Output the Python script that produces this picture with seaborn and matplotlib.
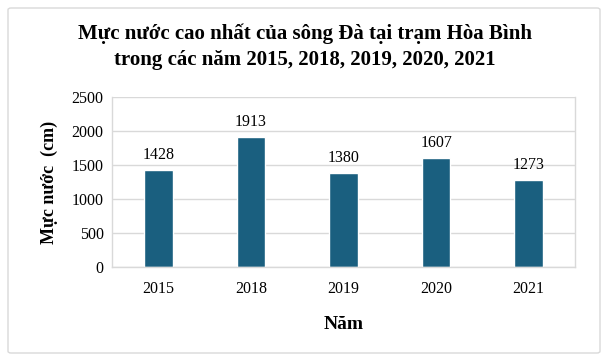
import pandas as pd
import seaborn as sns
import matplotlib.pyplot as plt
from matplotlib.patches import FancyBboxPatch

# dữ liệu
nam = ["2015", "2018", "2019", "2020", "2021"]
muc_nuoc = [1428, 1913, 1380, 1607, 1273]

df = pd.DataFrame({"Năm": nam, "Mực nước": muc_nuoc})

sns.set_theme(style="whitegrid")
plt.rcParams['font.family'] = ['Liberation Serif', 'DejaVu Serif']
plt.rcParams['text.color'] = 'black'
plt.rcParams['axes.labelcolor'] = 'black'

fig = plt.figure(figsize=(6.1, 3.61), dpi=100)
ax = fig.add_axes([112 / 610, 1 - 267 / 361, 463 / 610, 170 / 361])

sns.barplot(data=df, x="Năm", y="Mực nước", color="#1a5f7f", width=0.31,
            saturation=1, ax=ax)
ax.bar_label(ax.containers[0], fmt="%d", padding=5, fontsize=11.5)

ax.set_ylim(0, 2500)
ax.set_yticks(range(0, 2501, 500))
ax.grid(axis="y", color="#d9d9d9", linewidth=1)
ax.grid(axis="x", visible=False)
ax.tick_params(axis="both", labelsize=11.5, colors="#000000", length=0)
ax.tick_params(axis="x", pad=10)
ax.tick_params(axis="y", pad=6)
ax.spines["top"].set_visible(False)
for side in ["left", "right", "bottom"]:
    ax.spines[side].set_color("#d9d9d9")
    ax.spines[side].set_linewidth(1)

ax.set_xlabel("Năm", fontsize=14, fontweight="bold", labelpad=14)
ax.set_ylabel("Mực nước  (cm)", fontsize=13, fontweight="bold", labelpad=10)

fig.text(0.5, 1 - 47 / 361,
         "Mực nước cao nhất của sông Đà tại trạm Hòa Bình\n"
         "trong các năm 2015, 2018, 2019, 2020, 2021",
         ha="center", va="center", fontsize=15, fontweight="bold",
         linespacing=1.4)

# khung viền ngoài
fig.patches.append(FancyBboxPatch((8 / 610, 8 / 361), 592 / 610, 345 / 361,
                                  boxstyle="round,pad=0,rounding_size=0.005",
                                  transform=fig.transFigure, fill=False,
                                  edgecolor="#d9d9d9", linewidth=1))

fig.savefig("out.png", dpi=100)
